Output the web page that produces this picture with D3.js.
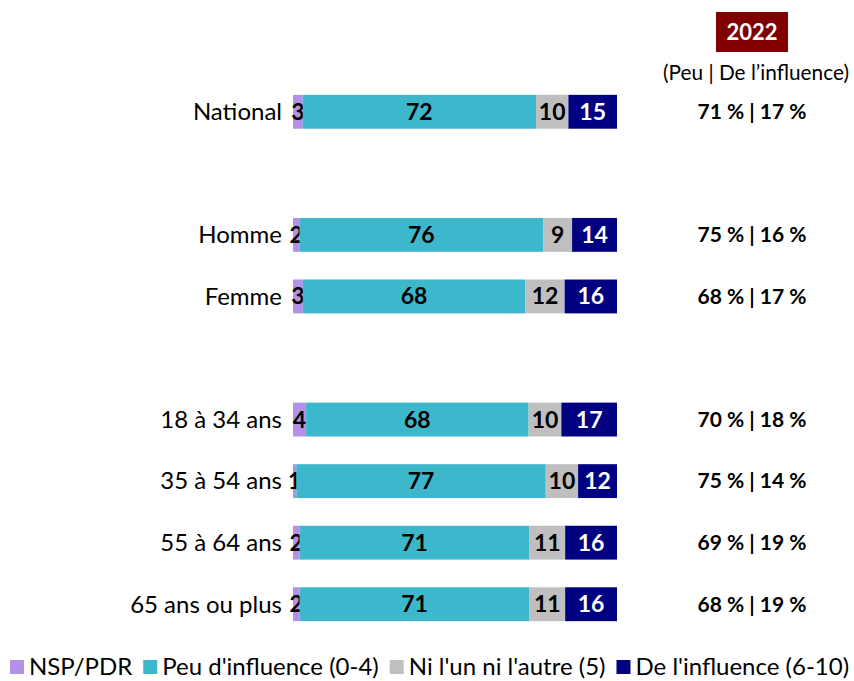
<!DOCTYPE html>
<html>
<head>
<meta charset="utf-8">
<script src="https://cdn.jsdelivr.net/npm/d3@7"></script>
<style>
  body { margin: 0; background: #fff; }
  svg { display: block; font-family: Lato, "Open Sans", sans-serif; }
</style>
</head>
<body>
<svg></svg>
<script>
// rows, with null for the blank gaps between groups
var rows = ['National', null, 'Homme', 'Femme', null, '18 à 34 ans', '35 à 54 ans', '55 à 64 ans', '65 ans ou plus'];
var series = ['NSP/PDR', "Peu d'influence (0-4)", "Ni l'un ni l'autre (5)", "De l'influence (6-10)"];
var colors = ['#b491e8', '#3db7cc', '#bfbfbf', '#000080'];

var nsp = [3, 2, 3, 4, 1, 2, 2];
var peu = [72, 76, 68, 68, 77, 71, 71];
var ni  = [10, 9, 12, 10, 10, 11, 11];
var de  = [15, 14, 16, 17, 12, 16, 16];

var summary = ['71 % | 17 %', '75 % | 16 %', '68 % | 17 %', '70 % | 18 %', '75 % | 14 %', '69 % | 19 %', '68 % | 19 %'];
var year = '2022';
var subTitle = '(Peu | De l\u2019influence)';

var W = 854, H = 681;
var svg = d3.select('svg').attr('width', W).attr('height', H);

var labels = rows.filter(function (r) { return r !== null; });
var data = labels.map(function (name, i) {
    return { name: name, values: [nsp[i], peu[i], ni[i], de[i]], summary: summary[i] };
});

var x = d3.scaleLinear().domain([0, 100]).range([293, 617]);
var y = d3.scaleBand()
    .domain(rows.map(function (r, i) { return i; }))
    .range([81, 635])
    .paddingInner(0.45)
    .paddingOuter(0.225);

function rowIndex(name) { return rows.indexOf(name); }

var g = svg.selectAll('g.row')
    .data(data)
    .enter()
    .append('g')
    .attr('class', 'row')
    .attr('transform', function (d) { return 'translate(0,' + y(rowIndex(d.name)) + ')'; });

g.append('text')
    .attr('x', 282)
    .attr('y', y.bandwidth() / 2)
    .attr('dy', '0.35em')
    .attr('text-anchor', 'end')
    .style('font-size', '24px')
    .attr('fill', '#000')
    .text(function (d) { return d.name; });

g.each(function (d) {
    // rounded labels don't always add to 100, so the bar is scaled to its own total
    var total = d3.sum(d.values);
    var acc = 0;
    var segs = d.values.map(function (v, k) {
        var s = { v: v, k: k, x0: acc * 100 / total, x1: (acc + v) * 100 / total };
        acc += v;
        return s;
    });
    var sel = d3.select(this).selectAll('g.seg').data(segs).enter().append('g').attr('class', 'seg');
    sel.append('rect')
        .attr('x', function (s) { return x(s.x0); })
        .attr('width', function (s) { return x(s.x1) - x(s.x0); })
        .attr('y', 0)
        .attr('height', y.bandwidth())
        .attr('fill', function (s) { return colors[s.k]; });
    sel.append('text')
        .attr('x', function (s) { return (x(s.x0) + x(s.x1)) / 2; })
        .attr('y', y.bandwidth() / 2)
        .attr('dy', '0.35em')
        .attr('text-anchor', 'middle')
        .style('font-size', '23px')
        .style('font-weight', 'bold')
        .attr('fill', function (s) { return s.k === 3 ? '#fff' : '#000'; })
        .text(function (s) { return s.v; });
});

g.append('text')
    .attr('x', 752)
    .attr('y', y.bandwidth() / 2)
    .attr('dy', '0.35em')
    .attr('text-anchor', 'middle')
    .style('font-size', '21px')
    .style('font-weight', 'bold')
    .text(function (d) { return d.summary; });

// year header
svg.append('rect')
    .attr('x', 716).attr('y', 12).attr('width', 72).attr('height', 40)
    .attr('fill', '#800000');
svg.append('text')
    .attr('x', 752).attr('y', 32).attr('dy', '0.35em')
    .attr('text-anchor', 'middle')
    .style('font-size', '22px').style('font-weight', 'bold')
    .attr('fill', '#fff')
    .text(year);
svg.append('text')
    .attr('x', 756).attr('y', 73).attr('dy', '0.35em')
    .attr('text-anchor', 'middle')
    .style('font-size', '20.8px')
    .text(subTitle);

// legend
var legend = svg.append('g').attr('transform', 'translate(10,667)');
var lx = 0;
series.forEach(function (s, i) {
    var item = legend.append('g').attr('transform', 'translate(' + lx + ',0)');
    item.append('rect').attr('x', 0).attr('y', -7).attr('width', 14).attr('height', 14).attr('fill', colors[i]);
    var t = item.append('text').attr('x', 19).attr('dy', '0.35em')
        .style('font-size', '24px').text(s);
    lx += 19 + t.node().getComputedTextLength() + 11;
});
</script>
</body>
</html>
